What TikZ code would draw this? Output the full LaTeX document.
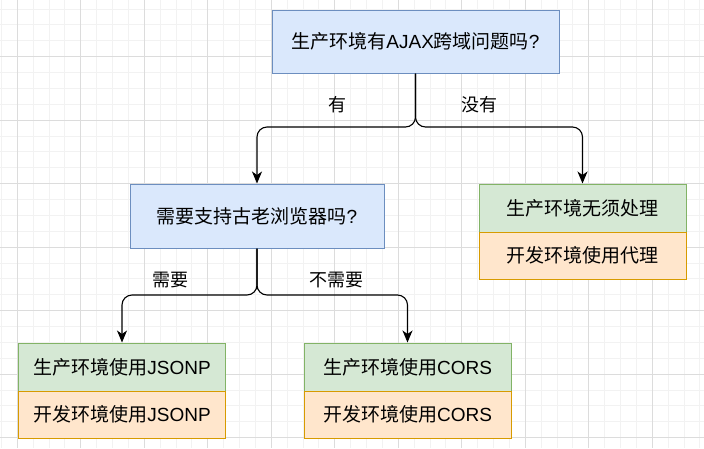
\documentclass[tikz,border=0pt]{standalone}
\usepackage{fontspec}
\setmainfont{Noto Sans CJK SC}
\newfontfamily\latinfont{Liberation Sans}
\usetikzlibrary{arrows.meta,positioning}

\definecolor{qfill}{HTML}{DAE8FC}
\definecolor{qline}{HTML}{6C8EBF}
\definecolor{gfill}{HTML}{D5E8D4}
\definecolor{gline}{HTML}{82B366}
\definecolor{ofill}{HTML}{FFE6CC}
\definecolor{oline}{HTML}{D79B00}
\definecolor{minorgrid}{HTML}{F2F2F2}
\definecolor{majorgrid}{HTML}{DCDCDC}

\newcommand{\lat}[1]{{\latinfont #1}}

\tikzset{
  box/.style={draw, line width=1pt, inner sep=0pt, font=\fontsize{19pt}{23pt}\selectfont},
  question/.style={box, fill=qfill, draw=qline},
  prod/.style={box, fill=gfill, draw=gline, minimum width=207pt, minimum height=48pt},
  dev/.style={box, fill=ofill, draw=oline, minimum width=207pt, minimum height=47pt},
  lbl/.style={inner sep=0pt, font=\fontsize{18pt}{22pt}\selectfont},
  edge/.style={line width=1.1pt, rounded corners=10pt, -{Stealth[length=12pt,width=10pt,inset=3.5pt]}}
}

\begin{document}
\begin{tikzpicture}[x=1pt, y=-1pt]

\useasboundingbox (0,0) rectangle (704,448);
\fill[white] (0,0) rectangle (704,448);

% Minor grid
\foreach \i in {0,1,...,44}
{
    \draw[minorgrid, line width=1pt] (1.4+\i*15.875,0) -- (1.4+\i*15.875,448);
}
\foreach \j in {0,1,...,29}
{
    \draw[minorgrid, line width=1pt] (0,-6.8+\j*15.875) -- (704,-6.8+\j*15.875);
}

% Major grid
\foreach \i in {0,1,...,10}
{
    \draw[majorgrid, line width=0.8pt] (17.3+\i*63.5,0) -- (17.3+\i*63.5,448);
}
\foreach \j in {1,2,...,7}
{
    \draw[majorgrid, line width=0.8pt] (0,-6.8+\j*63.5) -- (704,-6.8+\j*63.5);
}

% Questions
\node[question, minimum width=287pt, minimum height=63pt] (q1) at (415.5,41.5)
    {生产环境有\lat{AJAX}跨域问题吗\lat{?}};
\node[question, minimum width=254pt, minimum height=64pt] (q2) at (257,216)
    {需要支持古老浏览器吗\lat{?}};

% Answers
\node[prod] (prodProxy) at (582.5,208) {生产环境无须处理};
\node[dev, below=-1pt of prodProxy] (devProxy) {开发环境使用代理};

\node[prod] (prodJsonp) at (122,367) {生产环境使用\lat{JSONP}};
\node[dev, below=-1pt of prodJsonp] (devJsonp) {开发环境使用\lat{JSONP}};

\node[prod] (prodCors) at (407.5,367) {生产环境使用\lat{CORS}};
\node[dev, below=-1pt of prodCors] (devCors) {开发环境使用\lat{CORS}};

% Forks
\coordinate (fork1) at (415.5,127);
\coordinate (fork2) at (257,295);

\draw[edge] (q1.south) -- (fork1) -| (q2.north);
\draw[edge] (q1.south) -- (fork1) -| (prodProxy.north);
\draw[edge] (q2.south) -- (fork2) -| (prodJsonp.north);
\draw[edge] (q2.south) -- (fork2) -| (prodCors.north);

% Branch labels
\node[lbl] (yes1) at (337,105) {有};
\node[lbl] (no1) at (479,105) {没有};
\node[lbl] (yes2) at (170.5,280) {需要};
\node[lbl] (no2) at (336,280) {不需要};

\end{tikzpicture}
\end{document}
